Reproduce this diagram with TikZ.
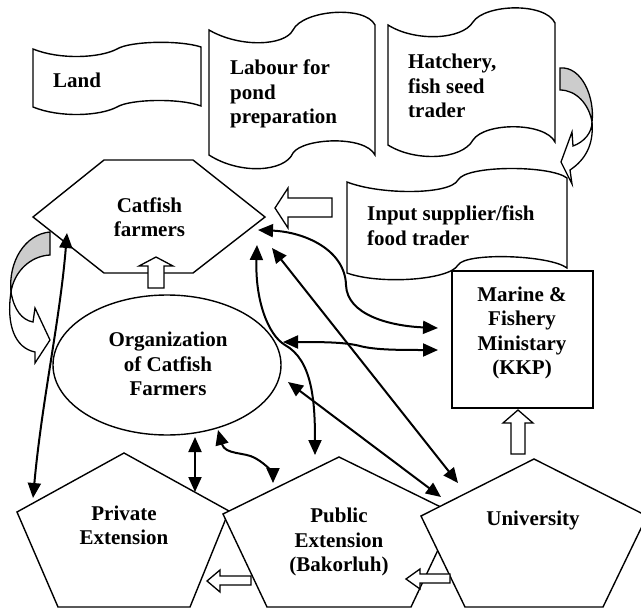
\documentclass[tikz,border=0pt]{standalone}
\usepackage{fontspec}
\setmainfont{Liberation Serif}
\usetikzlibrary{arrows.meta}
\newcommand\lbfont{\bfseries\fontsize{21}{24.5}\selectfont}
\tikzset{
  shp/.style={draw=black, line width=1.4pt, fill=white},
  blk/.style={draw=black, line width=1.3pt, fill=white, line join=miter},
  gry/.style={draw=black, line width=1.3pt, fill=black!20},
  lbl/.style={font=\lbfont, align=center, inner sep=0pt},
  lbll/.style={font=\lbfont, align=left, inner sep=0pt},
  conn/.style={line width=2pt, {Triangle[length=15pt,width=13pt]}-{Triangle[length=15pt,width=13pt]}},
}
\begin{document}
\begin{tikzpicture}[x=1pt,y=-1pt]
\useasboundingbox (0,0) rectangle (641,608);
\clip (0,0) rectangle (641,608);
% banners
\draw[shp] (33,49) .. controls (60,60) and (100,58) .. (117,49) .. controls (130,41) and (180,40) .. (201,47) -- (201,106) .. controls (180,98) and (130,99) .. (117,107) .. controls (100,116) and (60,118) .. (33,107) -- cycle;
\draw[shp] (209,30) .. controls (240,48) and (285,46) .. (293,30) .. controls (303,10) and (365,5) .. (375,25) -- (375,155) .. controls (365,135) and (303,138) .. (293,153) .. controls (285,172) and (240,175) .. (209,155) -- cycle;
\draw[shp] (388,25) .. controls (415,42) and (462,40) .. (473,22) .. controls (485,4) and (545,2) .. (555,23) -- (555,142) .. controls (545,122) and (485,122) .. (473,140) .. controls (462,160) and (415,162) .. (388,145) -- cycle;
\draw[shp] (347,182) .. controls (380,195) and (450,195) .. (458,180) .. controls (466,165) and (550,165) .. (567,178) -- (567,268) .. controls (550,255) and (466,252) .. (458,265) .. controls (450,280) and (380,285) .. (347,273) -- cycle;
% marine box
\draw[shp] (452,271) rectangle (593,408);
% catfish hexagon
\draw[shp] (33,217) -- (104,160) -- (193,160) -- (265,217) -- (193,273) -- (104,273) -- cycle;
% organization ellipse
\draw[shp] (167,365) ellipse [x radius=114, y radius=70];
% pentagons
\draw[shp] (124,453) -- (229,511) -- (190,607) -- (58,607) -- (17,512) -- cycle;
\draw[shp] (339,457) -- (455,514) -- (411,607) -- (267,607) -- (223,514) -- cycle;
\draw[shp] (534,459) -- (647,516) -- (603,607) -- (465,607) -- (421,516) -- cycle;
% block arrows
\draw[blk] (148,288) -- (148,266) -- (139,266) -- (156,257) -- (173,266) -- (164,266) -- (164,288) -- cycle;
\draw[blk] (332,198) -- (288,198) -- (288,188) -- (275,208) -- (288,228) -- (288,217) -- (332,217) -- cycle;
\draw[blk] (511,454) -- (511,423) -- (503,423) -- (518,410) -- (533,423) -- (525,423) -- (525,454) -- cycle;
\draw[blk] (251,576) -- (220,576) -- (220,570) -- (207,581) -- (220,592) -- (220,585) -- (251,585) -- cycle;
\draw[blk] (450,574) -- (420,574) -- (420,569) -- (406,579) -- (420,589) -- (420,583) -- (450,583) -- cycle;
% curved arrows
\draw[gry] (560,68) -- (560,90) .. controls (576,90) and (589,104) .. (592,122) .. controls (595,98) and (582,66) .. (560,68) -- cycle;
\draw[blk] (592,122) .. controls (592,133) and (584,142) .. (573,146) -- (572,132) -- (561,162) -- (572,184) -- (570,170) .. controls (585,160) and (594,145) .. (592,122) -- cycle;
\draw[gry] (50,232) -- (50,255) .. controls (30,256) and (14,272) .. (11,292) .. controls (8,262) and (25,234) .. (50,232) -- cycle;
\draw[blk] (11,292) .. controls (14,310) and (22,320) .. (33,322) -- (35,308) -- (50,340) -- (35,363) -- (35,352) .. controls (15,348) and (6,325) .. (11,292) -- cycle;
% labels
\node[lbll, anchor=base west] (land) at (53,87) {Land};
\node[lbll, anchor=west] (labour) at (230,94) {Labour for\\pond\\preparation};
\node[lbll, anchor=west] (hatch) at (408,86) {Hatchery,\\fish seed\\trader};
\node[lbll, anchor=west] (input) at (367,225.5) {Input supplier/fish\\food trader};
\node[lbl] (catfish) at (149.5,217) {Catfish\\farmers};
\node[lbl] (org) at (168,364) {Organization\\of Catfish\\Farmers};
\node[lbl] (kkp) at (522,333) {Marine \&\\Fishery\\Ministary\\(KKP)};
\node[lbl] (priv) at (124,525.5) {Private\\Extension};
\node[lbl] (pub) at (339,542) {Public\\Extension\\(Bakorluh)};
\node[lbl] (univ) at (533,520) {University};
% connector end points
\coordinate (cfA) at (67,233);
\coordinate (pvA) at (33,498);
\coordinate (cfB) at (258,230);
\coordinate (kkB) at (438,328);
\coordinate (orC) at (283,342);
\coordinate (kkC) at (438,350);
\coordinate (cfD) at (257,245);
\coordinate (puD) at (315,455);
\coordinate (cfE) at (272,248);
\coordinate (unE) at (458,483);
\coordinate (orF) at (288,382);
\coordinate (unF) at (441,497);
\coordinate (orG) at (195,437);
\coordinate (pvG) at (195,492);
\coordinate (orH) at (218,430);
\coordinate (puH) at (273,483);
% connectors
\draw[conn] (pvA) .. controls (42,400) and (60,320) .. (cfA);
\draw[conn] (cfB) .. controls (305,232) and (345,250) .. (346,285) .. controls (347,315) and (390,326) .. (kkB);
\draw[conn] (orC) .. controls (320,342) and (345,342) .. (360,346) .. controls (375,350) and (400,350) .. (kkC);
\draw[conn] (cfD) .. controls (255,300) and (268,335) .. (285,345) .. controls (312,360) and (315,400) .. (puD);
\draw[conn] (cfE) -- (unE);
\draw[conn] (orF) -- (unF);
\draw[conn] (orG) -- (pvG);
\draw[conn] (orH) .. controls (225,455) and (245,452) .. (255,458) .. controls (268,465) and (273,475) .. (puH);
\end{tikzpicture}
\end{document}
